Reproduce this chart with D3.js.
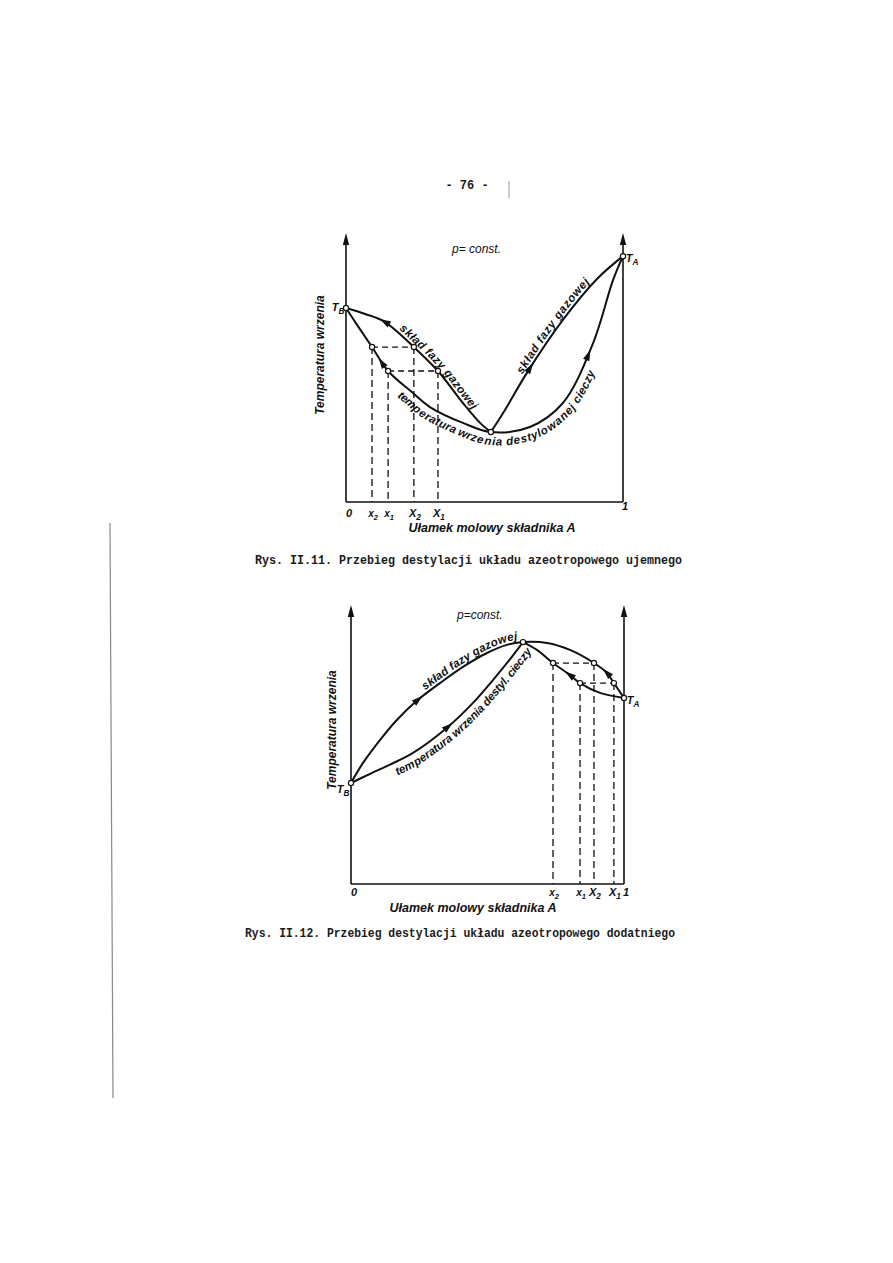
<!DOCTYPE html>
<html>
<head>
<meta charset="utf-8">
<script src="https://cdn.jsdelivr.net/npm/d3@7"></script>
<style>
  body { margin: 0; background: #fff; }
  svg { display: block; }
  .lbl { font-family: "Liberation Sans", Arial, sans-serif; font-style: italic; fill: #111; }
  .tw { font-family: "Liberation Mono", "DejaVu Sans Mono", monospace; font-weight: bold; fill: #1a1a1a; }
</style>
</head>
<body>
<svg id="page" width="893" height="1263"></svg>
<script>
/**
 * Data: mole fraction of A (0..1) and boiling temperature on a relative 0..100 scale
 */

// Rys. II.11 - negative azeotrope (minimum on the boiling curve)
var negVapourLeft = [[0, 72.1], [0.069, 69.9], [0.141, 66.9], [0.245, 57.6], [0.332, 48.7], [0.422, 36.8], [0.484, 29.4], [0.523, 26.0]];
var negVapourRight = [[0.523, 26.0], [0.574, 34.2], [0.653, 48.0], [0.783, 67.7], [0.906, 82.9], [1, 91.4]];
var negLiquid = [[0, 72.1], [0.043, 65.4], [0.094, 57.6], [0.152, 48.7], [0.242, 40.5], [0.303, 35.3], [0.422, 29.4],
                 [0.523, 26.0], [0.664, 27.9], [0.783, 36.8], [0.892, 59.1], [0.964, 82.5], [1, 91.4]];
var negTies = [{liq: 0.094, vap: 0.245, t: 57.6, n: "2"}, {liq: 0.152, vap: 0.332, t: 48.7, n: "1"}];
var negEnds = [[0, 72.1], [1, 91.4], [0.523, 26.0]];

// Rys. II.12 - positive azeotrope (maximum on the boiling curve)
var posVapour = [[0, 36.2], [0.044, 43.4], [0.106, 51.6], [0.168, 58.8], [0.245, 66.0], [0.326, 72.0], [0.410, 77.8],
                 [0.498, 82.8], [0.571, 85.7], [0.630, 86.7], [0.718, 86.4], [0.802, 83.9], [0.890, 79.2],
                 [0.938, 75.6], [0.963, 72.0], [1, 66.7]];
var posLiquidLeft = [[0, 36.2], [0.070, 39.5], [0.143, 42.8], [0.227, 47.0], [0.355, 56.3], [0.447, 64.9],
                     [0.520, 73.1], [0.582, 80.5], [0.630, 86.7]];
var posLiquidRight = [[0.630, 86.7], [0.681, 83.9], [0.740, 79.2], [0.802, 74.9], [0.839, 72.0], [0.912, 68.5], [1, 66.7]];
var posTies = [{liq: 0.740, vap: 0.890, t: 79.2, n: "2"}, {liq: 0.839, vap: 0.963, t: 72.0, n: "1"}];
var posEnds = [[0, 36.2], [1, 66.7], [0.630, 86.7]];

// Texts
var pageNumber = "- 76 -";
var caption11 = "Rys. II.11. Przebieg destylacji układu azeotropowego ujemnego";
var caption12 = "Rys. II.12. Przebieg destylacji układu azeotropowego dodatniego";
var yTitle = "Temperatura wrzenia";
var xTitle = "Ułamek molowy składnika A";
var vapourLabel = "skład fazy gazowej";

/**
 * Layout
 */
var svg = d3.select("#page");
var negBox = {left: 346, right: 623, base: 502, top: 233};
var posBox = {left: 351, right: 624, base: 884, top: 605};
var ink = "#111";
var pathCount = 0;

var makeScales = function(box) {
    return {
        x: d3.scaleLinear().domain([0, 1]).range([box.left, box.right]),
        y: d3.scaleLinear().domain([0, 100]).range([box.base, box.top])
    };
};

// length along a path where it reaches a given x (curves are monotone in x)
var lengthAtX = function(node, px) {
    let lo = 0, hi = node.getTotalLength();
    for (let i = 0; i < 40; i++) {
        let mid = (lo + hi) / 2;
        if (node.getPointAtLength(mid).x < px) lo = mid; else hi = mid;
    }
    return (lo + hi) / 2;
};

var drawCurve = function(g, s, data) {
    let line = d3.line()
        .x(function(d) { return s.x(d[0]); })
        .y(function(d) { return s.y(d[1]); })
        .curve(d3.curveCatmullRom.alpha(0.5));
    return g.append("path")
        .attr("id", "curve" + (pathCount++))
        .attr("d", line(data))
        .attr("fill", "none")
        .attr("stroke", ink)
        .attr("stroke-width", 2);
};

var curveArrow = function(g, s, path, xf, dir) {
    let node = path.node();
    let L = lengthAtX(node, s.x(xf));
    let p = node.getPointAtLength(L), q = node.getPointAtLength(L + dir * 2);
    let ang = Math.atan2(q.y - p.y, q.x - p.x) * 180 / Math.PI;
    g.append("path")
        .attr("d", "M6,0L-5,-3.4L-5,3.4Z")
        .attr("transform", "translate(" + p.x + "," + p.y + ")rotate(" + ang + ")")
        .attr("fill", ink);
};

var curveLabel = function(g, s, path, text, x0, x1, dy) {
    let node = path.node();
    let a = lengthAtX(node, s.x(x0));
    let b = lengthAtX(node, s.x(x1));
    g.append("text")
        .attr("class", "lbl")
        .attr("font-size", 11.5)
        .attr("font-weight", "bold")
        .attr("dy", dy)
        .append("textPath")
        .attr("href", "#" + path.attr("id"))
        .attr("startOffset", a)
        .attr("textLength", b - a)
        .attr("lengthAdjust", "spacing")
        .text(text);
};

var subLabel = function(g, x, y, main, sub, size) {
    let t = g.append("text").attr("class", "lbl")
        .attr("x", x).attr("y", y)
        .attr("text-anchor", "middle")
        .attr("font-size", size)
        .attr("font-weight", "bold");
    t.append("tspan").text(main);
    t.append("tspan").attr("font-size", size * 0.75).attr("dy", 3).text(sub);
    return t;
};

/**
 * Draws one diagram frame: axes, tie lines and labels
 */
var drawFrame = function(g, s, ties, ends, opts) {
    let x0 = s.x(0), x1 = s.x(1), yb = s.y(0), yt = s.y(100);

    // axes
    g.append("line").attr("x1", x0).attr("x2", x1).attr("y1", yb).attr("y2", yb)
        .attr("stroke", ink).attr("stroke-width", 1.6);
    [x0, x1].forEach(function(x) {
        g.append("line").attr("x1", x).attr("x2", x).attr("y1", yb).attr("y2", yt + 8)
            .attr("stroke", ink).attr("stroke-width", 1.6);
        g.append("path")
            .attr("d", "M" + x + "," + yt + "L" + (x - 3.2) + "," + (yt + 12) + "L" + (x + 3.2) + "," + (yt + 12) + "Z")
            .attr("fill", ink);
    });

    // tie lines
    ties.forEach(function(t) {
        let y = s.y(t.t);
        g.append("line").attr("x1", s.x(t.liq)).attr("x2", s.x(t.vap)).attr("y1", y).attr("y2", y)
            .attr("stroke", ink).attr("stroke-width", 1.3).attr("stroke-dasharray", "6,4");
        [t.liq, t.vap].forEach(function(v) {
            g.append("line").attr("x1", s.x(v)).attr("x2", s.x(v)).attr("y1", y).attr("y2", yb)
                .attr("stroke", ink).attr("stroke-width", 1.3).attr("stroke-dasharray", "7,4");
        });
    });

    // tick labels
    g.append("text").attr("class", "lbl").attr("x", x0 + 3).attr("y", opts.tickY)
        .attr("text-anchor", "middle").attr("font-size", 11).attr("font-weight", "bold").text("0");
    g.append("text").attr("class", "lbl").attr("x", x1 + 2).attr("y", opts.tickY1)
        .attr("text-anchor", "middle").attr("font-size", 11).attr("font-weight", "bold").text("1");
    ties.forEach(function(t) {
        subLabel(g, s.x(t.liq) + 1, opts.tickY, "x", t.n, 10);
        subLabel(g, s.x(t.vap) + 1, opts.tickY, "X", t.n, 11);
    });

    // titles
    g.append("text").attr("class", "lbl").attr("font-size", 12.5).attr("font-weight", "bold")
        .attr("text-anchor", "middle").attr("x", opts.xTitle[0]).attr("y", opts.xTitle[1]).text(xTitle);
    g.append("text").attr("class", "lbl").attr("font-size", 12).attr("font-weight", "bold")
        .attr("text-anchor", "middle")
        .attr("transform", "translate(" + opts.yTitle[0] + "," + opts.yTitle[1] + ")rotate(-90)")
        .text(yTitle);
    g.append("text").attr("class", "lbl").attr("font-size", 12)
        .attr("x", opts.pConst[0]).attr("y", opts.pConst[1]).text(opts.pText);

    // T_B, T_A
    subLabel(g, x0 - 8, s.y(ends[0][1]) + opts.tbDy, "T", "B", 11);
    subLabel(g, x1 + 9, s.y(ends[1][1]) + 6, "T", "A", 11);
};

var drawPoints = function(g, s, pts) {
    g.selectAll("circle.pt").data(pts).enter().append("circle")
        .attr("class", "pt")
        .attr("cx", function(d) { return s.x(d[0]); })
        .attr("cy", function(d) { return s.y(d[1]); })
        .attr("r", 2.6)
        .attr("fill", "#fff")
        .attr("stroke", ink)
        .attr("stroke-width", 1.2);
};

var tiePoints = function(ties) {
    let pts = [];
    ties.forEach(function(t) { pts.push([t.liq, t.t]); pts.push([t.vap, t.t]); });
    return pts;
};

/**
 * Page header, captions and scan marks
 */
svg.append("text").attr("class", "tw").attr("x", 467).attr("y", 189)
    .attr("text-anchor", "middle").attr("font-size", 12).attr("font-weight", "normal").text(pageNumber);
svg.append("line").attr("x1", 509).attr("x2", 509).attr("y1", 181).attr("y2", 198)
    .attr("stroke", "#999").attr("stroke-width", 1);
svg.append("line").attr("x1", 110).attr("x2", 113).attr("y1", 523).attr("y2", 1098)
    .attr("stroke", "#888").attr("stroke-width", 1.2);

svg.append("text").attr("class", "tw").attr("x", 255).attr("y", 564).attr("font-size", 12)
    .attr("textLength", 427).attr("lengthAdjust", "spacingAndGlyphs").text(caption11);
svg.append("text").attr("class", "tw").attr("x", 245).attr("y", 937).attr("font-size", 12)
    .attr("textLength", 430).attr("lengthAdjust", "spacingAndGlyphs").text(caption12);

/**
 * Rys. II.11
 */
var g1 = svg.append("g");
var s1 = makeScales(negBox);
drawFrame(g1, s1, negTies, negEnds, {
    tickY: 517, tickY1: 510, xTitle: [492, 532], yTitle: [324, 355],
    pConst: [452, 253], pText: "p= const.", tbDy: 3
});
var vl1 = drawCurve(g1, s1, negVapourLeft);
var vr1 = drawCurve(g1, s1, negVapourRight);
var lq1 = drawCurve(g1, s1, negLiquid);
curveArrow(g1, s1, vl1, 0.141, -1);
curveArrow(g1, s1, lq1, 0.130, -1);
curveArrow(g1, s1, vr1, 0.664, 1);
curveArrow(g1, s1, lq1, 0.874, 1);
curveLabel(g1, s1, vl1, vapourLabel, 0.184, 0.448, -3);
curveLabel(g1, s1, vr1, vapourLabel, 0.646, 0.888, -3);
curveLabel(g1, s1, lq1, "temperatura wrzenia destylowanej cieczy", 0.213, 0.856, 13);
drawPoints(g1, s1, negEnds.concat(tiePoints(negTies)));

/**
 * Rys. II.12
 */
var g2 = svg.append("g");
var s2 = makeScales(posBox);
drawFrame(g2, s2, posTies, posEnds, {
    tickY: 896, tickY1: 896, xTitle: [473, 912], yTitle: [336, 730],
    pConst: [457, 619], pText: "p=const.", tbDy: 10
});
var vp2 = drawCurve(g2, s2, posVapour);
var ll2 = drawCurve(g2, s2, posLiquidLeft);
var lr2 = drawCurve(g2, s2, posLiquidRight);
curveArrow(g2, s2, vp2, 0.245, 1);
curveArrow(g2, s2, ll2, 0.355, 1);
curveArrow(g2, s2, lr2, 0.802, -1);
curveArrow(g2, s2, vp2, 0.938, -1);
curveLabel(g2, s2, vp2, vapourLabel, 0.278, 0.612, -3);
curveLabel(g2, s2, ll2, "temperatura wrzenia destyl. cieczy", 0.15, 0.625, 13);
drawPoints(g2, s2, posEnds.concat(tiePoints(posTies)));
</script>
</body>
</html>
